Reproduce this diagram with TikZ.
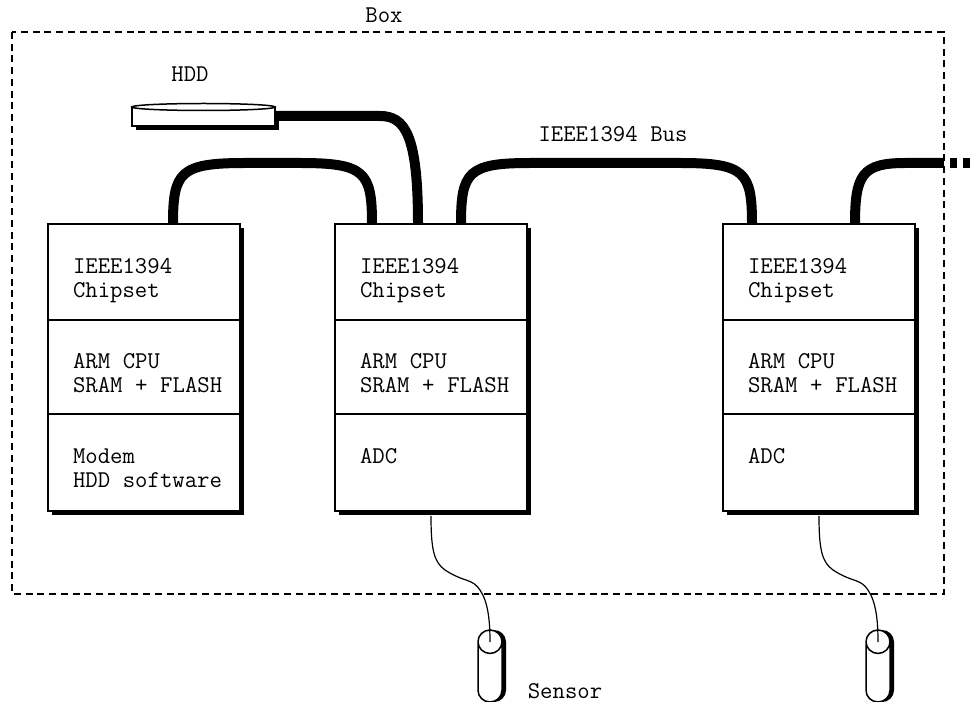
\documentclass[tikz,border=0pt]{standalone}
\usepackage{fontspec}
\usetikzlibrary{shapes.geometric, positioning, calc, shadows}
\newcommand{\boxfont}{\fontsize{13.7}{13.7}\selectfont\ttfamily\spaceskip=0.525em\relax}
\tikzset{
  cell/.style={rectangle, draw=black, fill=white, line width=0.03cm, outer sep=0pt,
    minimum width=3.84cm, text width=2.84cm, inner xsep=0.5cm, inner ysep=0pt, align=left,
    font=\boxfont,
    execute at begin node={\spaceskip=0.525em\relax\rule{0pt}{19.3pt}}, execute at end node=\strut,
    drop shadow={shadow xshift=0.08cm, shadow yshift=-0.08cm, fill=black, opacity=1}},
  sensor/.style={cylinder, shape border rotate=90, draw=black, fill=white, line width=0.03cm,
    minimum width=0.48cm, minimum height=1.44cm, aspect=2, outer sep=0pt, anchor=shape center,
    drop shadow={shadow xshift=0.08cm, shadow yshift=0cm, fill=black, opacity=1}},
  disk/.style={rectangle, draw=black, fill=white, line width=0.03cm,
    minimum width=2.86cm, minimum height=0.38cm, outer sep=0pt, inner sep=0pt,
    drop shadow={shadow xshift=0.08cm, shadow yshift=-0.08cm, fill=black, opacity=1}},
  disktop/.style={ellipse, draw=black, fill=white, line width=0.03cm,
    minimum width=2.86cm, minimum height=0.14cm, outer sep=0pt, inner sep=0pt},
  cable/.style={line width=0.2cm, color=black},
  wire/.style={line width=0.024cm, color=black},
  lab/.style={font=\boxfont, inner sep=0pt}
}
\begin{document}
\begin{tikzpicture}[x=0.02cm, y=-0.02cm]
  \useasboundingbox (0,0) rectangle (973,702);
  \draw[line width=0.024cm, dash pattern=on 0.14cm off 0.095cm] (12,32) rectangle (944,594);
  \node[lab] (boxlab) at (384,15) {Box};
  \node[lab] (hddlab) at (190,74) {HDD};
  \node[lab] (buslab) at (613,134) {IEEE1394 Bus};
  \node[lab] (senslab) at (565,691) {Sensor};

  \node[cell, minimum height=1.92cm] (chipa) at (144,272) {IEEE1394\\Chipset};
  \node[cell, minimum height=1.88cm, below=0pt of chipa] (cpua) {ARM CPU\\\mbox{SRAM + FLASH}};
  \node[cell, minimum height=1.94cm, below=0pt of cpua] (soft) {Modem\\\mbox{HDD software}};

  \node[cell, minimum height=1.92cm] (chipb) at (431,272) {IEEE1394\\Chipset};
  \node[cell, minimum height=1.88cm, below=0pt of chipb] (cpub) {ARM CPU\\\mbox{SRAM + FLASH}};
  \node[cell, minimum height=1.94cm, below=0pt of cpub] (adcb) {ADC\\~};

  \node[cell, minimum height=1.92cm] (chipc) at (819,272) {IEEE1394\\Chipset};
  \node[cell, minimum height=1.88cm, below=0pt of chipc] (cpuc) {ARM CPU\\\mbox{SRAM + FLASH}};
  \node[cell, minimum height=1.94cm, below=0pt of cpuc] (adcc) {ADC\\~};

  \coordinate (busend) at (943,163);
  \coordinate (busdots) at (973,163);
  \draw[cable] ($(chipa.north)+(29,0)$) .. controls (173,172) and (180,163) .. (245,163)
    -- (300,163) .. controls (365,163) and (372,172) .. ($(chipb.north)+(-59,0)$);
  \draw[cable] ($(chipb.north)+(30,0)$) .. controls (461,172) and (468,163) .. (530,163)
    -- (680,163) .. controls (745,163) and (752,172) .. ($(chipc.north)+(-67,0)$);
  \draw[cable] ($(chipc.north)+(36,0)$) .. controls (855,175) and (862,163) .. (905,163) -- (busend);
  \draw[cable, dash pattern=on 0.14cm off 0.12cm, dash phase=-0.14cm] (busend) -- (busdots);

  \node[disk] (hdd) at (203.5,116.5) {};
  \node[disktop] (hddtop) at (203.5,107) {};
  \draw[cable] (hdd.east |- 0,116) -- (380,116) .. controls (405,116) and (418,135) .. ($(chipb.north)+(-13,0)$);

  \node[sensor] (sensb) at (490,666) {};
  \node[sensor] (sensc) at (878,666) {};
  \draw[wire] ($(adcb.south)+(0,5)$) .. controls (431,550) and (434,562) .. (445,570)
    .. controls (465,583) and (472,578) .. (480,590) .. controls (488,602) and (490,620) .. ($(sensb.north)+(0,12)$);
  \draw[wire] ($(adcc.south)+(0,5)$) .. controls (819,550) and (822,562) .. (833,570)
    .. controls (853,583) and (860,578) .. (868,590) .. controls (876,602) and (878,620) .. ($(sensc.north)+(0,12)$);
\end{tikzpicture}
\end{document}
